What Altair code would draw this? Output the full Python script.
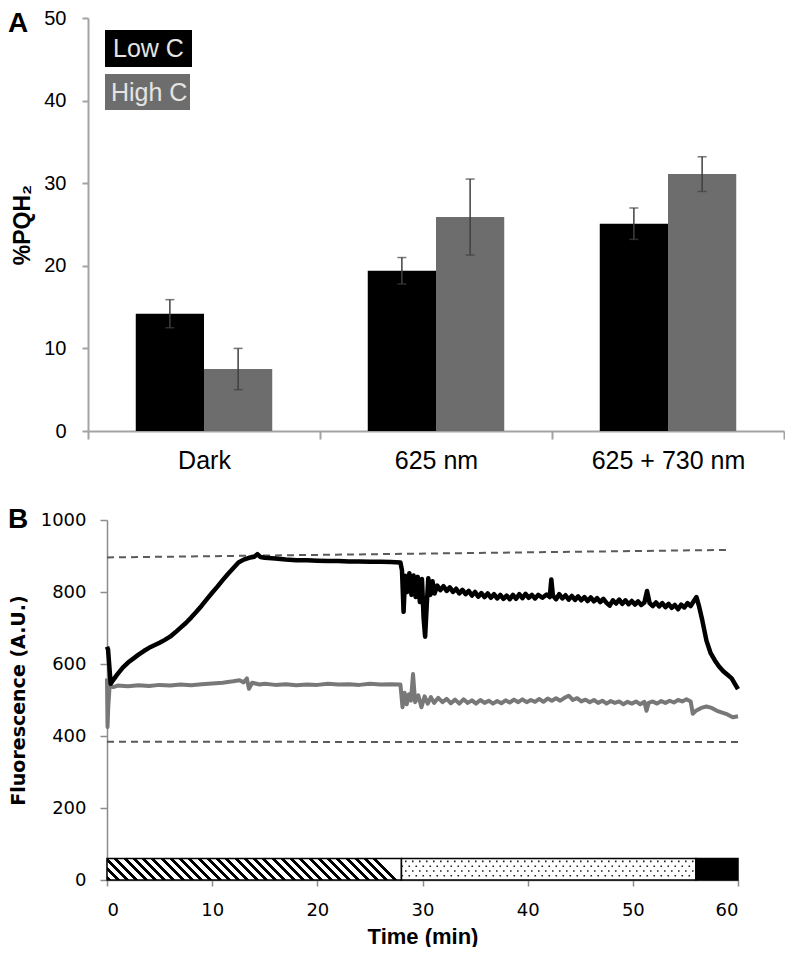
import altair as alt
import pandas as pd

# ---------------- Panel A data ----------------
categories = ["Dark", "625 nm", "625 + 730 nm"]
series = ["Low C", "High C"]
low_c_mean = [14.2, 19.4, 25.1]
low_c_err = [1.7, 1.6, 1.9]
high_c_mean = [7.5, 25.9, 31.1]
high_c_err = [2.5, 4.6, 2.1]
a_y_ticks = [0, 10, 20, 30, 40, 50]

# ---------------- Panel B data ----------------
black_trace = [
    (0.0, 648), (0.1, 640), (0.35, 545), (0.6, 556), (1.0, 572), (1.5, 590), (2.0, 604), (2.5, 615),
    (3.0, 626), (3.5, 636), (4.0, 645), (4.5, 652), (5.0, 659), (5.5, 667), (6.0, 676), (6.5, 688),
    (7.0, 701), (7.5, 714), (8.0, 729), (8.5, 745), (9.0, 762), (9.5, 780), (10.0, 798), (10.5, 815),
    (11.0, 833), (11.5, 850), (12.0, 866), (12.5, 882), (13.0, 890), (13.5, 895), (14.0, 898), (14.3, 905),
    (14.6, 897), (15.0, 895), (16.0, 893), (17.0, 890), (18.0, 888), (19.0, 888), (20.0, 887), (21.0, 886),
    (22.0, 886), (23.0, 885), (24.0, 885), (25.0, 884), (26.0, 884), (27.0, 883), (27.9, 882),
    (28.05, 860), (28.2, 745), (28.35, 845), (28.55, 800), (28.75, 852), (28.95, 792), (29.15, 846),
    (29.35, 786), (29.55, 842), (29.75, 772), (29.95, 836), (30.1, 730), (30.25, 676), (30.4, 762),
    (30.55, 838), (30.75, 792), (30.95, 830), (31.15, 796),
    (31.4, 818), (31.7, 805), (32.0, 816), (32.3, 803), (32.6, 813), (32.9, 800), (33.2, 809), (33.5, 796),
    (33.8, 806), (34.1, 794), (34.4, 803), (34.7, 790), (35.0, 800), (35.3, 787), (35.6, 797), (35.9, 786),
    (36.2, 796), (36.5, 784), (36.8, 794), (37.1, 782), (37.4, 792), (37.7, 781), (38.0, 790), (38.3, 780),
    (38.6, 792), (38.9, 781), (39.2, 794), (39.5, 783), (39.8, 795), (40.1, 784), (40.4, 792), (40.7, 782),
    (41.0, 792), (41.4, 784), (41.8, 793), (42.1, 786), (42.25, 835), (42.4, 790), (42.7, 780), (43.0, 794),
    (43.3, 782), (43.6, 791), (43.9, 779), (44.2, 789), (44.5, 778), (44.8, 788), (45.1, 777), (45.4, 786),
    (45.7, 775), (46.0, 785), (46.3, 774), (46.6, 783), (46.9, 772), (47.2, 781), (47.5, 770), (47.8, 762),
    (48.1, 777), (48.4, 768), (48.7, 779), (49.0, 767), (49.3, 777), (49.6, 766), (49.9, 775), (50.2, 765),
    (50.5, 774), (50.8, 764), (51.1, 771), (51.35, 803), (51.6, 769), (51.9, 761), (52.2, 771), (52.5, 760),
    (52.8, 769), (53.1, 758), (53.4, 767), (53.7, 756), (54.0, 764), (54.3, 752), (54.6, 765), (54.9, 757),
    (55.2, 769), (55.5, 761), (55.8, 775), (56.05, 786), (56.3, 760), (56.6, 722), (57.0, 665), (57.4, 630),
    (57.8, 610), (58.2, 593), (58.6, 580), (59.0, 570), (59.4, 560), (59.8, 540), (60.0, 530)]

grey_trace = [
    (0.0, 560), (0.05, 425), (0.12, 480), (0.25, 540), (0.6, 536), (1.0, 540), (2.0, 538), (3.0, 541),
    (4.0, 539), (5.0, 542), (6.0, 540), (7.0, 543), (8.0, 541), (9.0, 544), (10.0, 546), (11.0, 548),
    (12.0, 552), (12.6, 555), (13.0, 549), (13.3, 560), (13.5, 531), (13.8, 548), (14.5, 543), (15.0, 545),
    (16.0, 542), (17.0, 544), (18.0, 541), (19.0, 543), (20.0, 542), (21.0, 545), (22.0, 543), (23.0, 544),
    (24.0, 542), (25.0, 545), (26.0, 543), (27.0, 544), (27.9, 543), (28.1, 480), (28.3, 520), (28.5, 488),
    (28.7, 516), (28.9, 498), (29.1, 572), (29.3, 494), (29.6, 513), (29.9, 480), (30.2, 510), (30.5, 490),
    (30.8, 508), (31.1, 492), (31.5, 506), (31.9, 494), (32.3, 503), (32.7, 491), (33.1, 501), (33.5, 490),
    (33.9, 502), (34.3, 492), (34.7, 499), (35.1, 490), (35.5, 500), (35.9, 492), (36.3, 498), (36.7, 490),
    (37.1, 497), (37.5, 491), (37.9, 499), (38.3, 493), (38.7, 501), (39.1, 494), (39.5, 502), (39.9, 494),
    (40.3, 500), (40.7, 495), (41.1, 503), (41.5, 495), (41.9, 504), (42.3, 498), (42.7, 505), (43.1, 498),
    (43.5, 506), (43.9, 512), (44.3, 500), (44.7, 505), (45.1, 496), (45.5, 501), (45.9, 494), (46.3, 500),
    (46.7, 492), (47.1, 498), (47.5, 490), (47.9, 497), (48.3, 492), (48.7, 496), (49.1, 488), (49.5, 495),
    (49.9, 490), (50.3, 496), (50.7, 488), (51.1, 495), (51.3, 470), (51.5, 492), (51.9, 496), (52.3, 490),
    (52.7, 497), (53.1, 492), (53.5, 498), (53.9, 493), (54.3, 500), (54.7, 496), (55.1, 502), (55.5, 496),
    (55.7, 462), (56.0, 470), (56.5, 478), (57.0, 482), (57.5, 478), (58.0, 470), (58.5, 465), (59.0, 460),
    (59.5, 452), (60.0, 455)]

upper_dash_t = [0, 59.2]
upper_dash_v = [896, 917]
lower_dash_t = [0, 60]
lower_dash_v = [384, 383]

phase_start = [0, 28, 56]
phase_end = [28, 56, 60]
phase_kind = ["hatched", "dotted", "solid"]
phase_height = 60

b_x_ticks = [0, 10, 20, 30, 40, 50, 60]
b_y_ticks = [0, 200, 400, 600, 800, 1000]

# ---------------- styles ----------------
FA = "Liberation Sans, Arial, sans-serif"
FB = "DejaVu Sans, Verdana, sans-serif"
AX_GREY = "#a3a3a3"
ERR = "#404040"
BAR_COLORS = ["#000000", "#6d6d6d"]
WA, HA = 696, 413
B_SHIFT = 19          # panel B axis sits this many px right of panel A's axis
WB_DATA, HB = 631, 360
WB = WB_DATA + B_SHIFT

# ---------------- Panel A ----------------
rows = []
for i, c in enumerate(categories):
    rows.append({"category": c, "series": series[0], "value": low_c_mean[i],
                 "lo": low_c_mean[i] - low_c_err[i], "hi": low_c_mean[i] + low_c_err[i]})
    rows.append({"category": c, "series": series[1], "value": high_c_mean[i],
                 "lo": high_c_mean[i] - high_c_err[i], "hi": high_c_mean[i] + high_c_err[i]})
df_a = pd.DataFrame(rows)

y_title_a = "%PQH₂"


def xa():
    return alt.X("category:N", sort=categories, title=None,
                 scale=alt.Scale(paddingInner=0, paddingOuter=0),
                 axis=alt.Axis(labelAngle=0, labelFont=FA, labelFontSize=25, labelColor="#000",
                               labelPadding=9, tickBand="extent", tickSize=8, tickWidth=2,
                               tickColor=AX_GREY, domainColor=AX_GREY, domainWidth=2))


def xoa():
    return alt.XOffset("series:N", sort=series, scale=alt.Scale(paddingInner=0, paddingOuter=0.7))


def ya(field):
    return alt.Y(field, title=y_title_a, scale=alt.Scale(domain=[0, 50], nice=False),
                 axis=alt.Axis(values=a_y_ticks, titleFont=FA, titleFontSize=23, titleFontWeight="bold",
                               titleColor="#000", titlePadding=9, labelFont=FA, labelFontSize=20,
                               labelColor="#000", labelPadding=16, tickSize=6, tickWidth=2,
                               tickColor=AX_GREY, domainColor=AX_GREY, domainWidth=2))


base_a = alt.Chart(df_a)
bars = base_a.mark_bar().encode(
    x=xa(), xOffset=xoa(), y=ya("value:Q"),
    color=alt.Color("series:N", scale=alt.Scale(domain=series, range=BAR_COLORS), legend=None))
err_rule = base_a.mark_rule(color=ERR, strokeWidth=1.5).encode(
    x=xa(), xOffset=xoa(), y=ya("lo:Q"), y2="hi:Q")
cap_hi = base_a.mark_tick(color=ERR, thickness=1.5, size=9).encode(x=xa(), xOffset=xoa(), y=ya("hi:Q"))
cap_lo = base_a.mark_tick(color=ERR, thickness=1.5, size=9).encode(x=xa(), xOffset=xoa(), y=ya("lo:Q"))

leg_low = pd.DataFrame({"label": [series[0]]})
leg_high = pd.DataFrame({"label": [series[1]]})
leg_low_box = alt.Chart(leg_low).mark_rect(color=BAR_COLORS[0]).encode(
    x=alt.value(17), x2=alt.value(104), y=alt.value(12), y2=alt.value(49))
leg_high_box = alt.Chart(leg_high).mark_rect(color=BAR_COLORS[1]).encode(
    x=alt.value(17), x2=alt.value(102), y=alt.value(56), y2=alt.value(92))
leg_low_txt = alt.Chart(leg_low).mark_text(align="left", baseline="middle", font=FA, fontSize=25,
                                            color="#e4e4e4").encode(
    x=alt.value(25), y=alt.value(31), text="label:N")
leg_high_txt = alt.Chart(leg_high).mark_text(align="left", baseline="middle", font=FA, fontSize=25,
                                              color="#e4e4e4").encode(
    x=alt.value(23), y=alt.value(75), text="label:N")
lab_a = alt.Chart(pd.DataFrame({"p": ["A"]})).mark_text(
    align="left", baseline="top", font=FA, fontSize=28, fontWeight="bold", color="#000").encode(
    x=alt.value(-80), y=alt.value(-8), text="p:N")

chart_a = alt.layer(bars, err_rule, cap_hi, cap_lo, leg_low_box, leg_high_box, leg_low_txt,
                    leg_high_txt, lab_a).properties(width=WA, height=HA)

# ---------------- Panel B ----------------
df_black = pd.DataFrame(black_trace, columns=["t", "v"])
df_grey = pd.DataFrame(grey_trace, columns=["t", "v"])
df_dash_up = pd.DataFrame({"t": upper_dash_t, "v": upper_dash_v})
df_dash_lo = pd.DataFrame({"t": lower_dash_t, "v": lower_dash_v})
df_phase = pd.DataFrame({"start": phase_start, "end": phase_end, "kind": phase_kind,
                         "lo": [0] * len(phase_start), "hi": [phase_height] * len(phase_start)})

x_title_b = "Time (min)"
y_title_b = "Fluorescence (A.U.)"


def xb(field):
    return alt.X(field, title=x_title_b, scale=alt.Scale(domain=[0, 60], nice=False, range=[B_SHIFT, WB]),
                 axis=alt.Axis(values=b_x_ticks, labelFont=FB, labelFontSize=18, labelColor="#000",
                               labelPadding=15, tickSize=6, tickWidth=1.5, tickColor="#8c8c8c",
                               domainColor="#8c8c8c", domainWidth=1.5, titleFont=FA, titleFontSize=22,
                               titleFontWeight="bold", titleColor="#000", titlePadding=7))


def yb(field):
    return alt.Y(field, title=y_title_b, scale=alt.Scale(domain=[0, 1000], nice=False),
                 axis=alt.Axis(values=b_y_ticks, format="d", offset=-B_SHIFT, labelFont=FB, labelFontSize=18,
                               labelColor="#000", labelPadding=14, tickSize=7, tickWidth=1.5,
                               tickColor="#8c8c8c", domainColor="#8c8c8c", domainWidth=1.5, titleFont=FB,
                               titleFontSize=19, titleFontWeight="bold", titleColor="#000", titlePadding=12))


# hatch gradient (style only)
seg_w = (phase_end[0] - phase_start[0]) / 60 * WB_DATA
seg_h = phase_height / 1000 * HB
ratio = seg_h / seg_w
n_stripes = max(1, round(seg_w / 9.3))
stops = []
for i in range(n_stripes):
    a0 = i / n_stripes
    m0 = (i + 0.45) / n_stripes
    b0 = (i + 1) / n_stripes
    stops += [alt.GradientStop(offset=a0, color="#000"), alt.GradientStop(offset=m0, color="#000"),
              alt.GradientStop(offset=m0, color="#fff"), alt.GradientStop(offset=b0, color="#fff")]
hatch = alt.LinearGradient(gradient="linear", stops=stops, x1=0, y1=1, x2=1, y2=1 - ratio)

base_p = alt.Chart(df_phase)
rect_hatch = base_p.transform_filter(alt.datum.kind == "hatched").mark_rect(
    fill=hatch, stroke="#000", strokeWidth=1.5).encode(x=xb("start:Q"), x2="end:Q", y=yb("lo:Q"), y2="hi:Q")
rect_dot = base_p.transform_filter(alt.datum.kind == "dotted").mark_rect(
    fill="#fff", stroke="#000", strokeWidth=1.5).encode(x=xb("start:Q"), x2="end:Q", y=yb("lo:Q"), y2="hi:Q")
rect_solid = base_p.transform_filter(alt.datum.kind == "solid").mark_rect(
    fill="#000", stroke="#000", strokeWidth=1.5).encode(x=xb("start:Q"), x2="end:Q", y=yb("lo:Q"), y2="hi:Q")

dot_layers = []
for j, f in enumerate([0.2, 0.42, 0.64, 0.86]):
    dot_layers.append(
        base_p.transform_filter(alt.datum.kind == "dotted").mark_rule(
            color="#222", strokeWidth=1.6, strokeDash=[1.6, 5.4], strokeDashOffset=(3.5 if j % 2 else 0)
        ).encode(x=xb("start:Q"), x2="end:Q", y=alt.value(HB - f * seg_h)))

dash_up = alt.Chart(df_dash_up).mark_line(color="#5a5a5a", strokeWidth=2, strokeDash=[7, 5]).encode(
    x=xb("t:Q"), y=yb("v:Q"))
dash_lo = alt.Chart(df_dash_lo).mark_line(color="#5a5a5a", strokeWidth=2, strokeDash=[7, 5]).encode(
    x=xb("t:Q"), y=yb("v:Q"))
line_black = alt.Chart(df_black).mark_line(color="#000", strokeWidth=4.5, strokeJoin="round").encode(
    x=xb("t:Q"), y=yb("v:Q"))
line_grey = alt.Chart(df_grey).mark_line(color="#787878", strokeWidth=4, strokeJoin="round").encode(
    x=xb("t:Q"), y=yb("v:Q"))

lab_b = alt.Chart(pd.DataFrame({"p": ["B"]})).mark_text(
    align="left", baseline="middle", font=FA, fontSize=28, fontWeight="bold", color="#000").encode(
    x=alt.value(-80), y=alt.value(0), text="p:N")

chart_b = alt.layer(rect_hatch, rect_dot, *dot_layers, rect_solid, dash_up, dash_lo, line_grey, line_black,
                    lab_b).properties(width=WB, height=HB)

chart = alt.vconcat(chart_a, chart_b, spacing=33).properties(
    padding=0).configure_view(stroke=None).configure_axis(grid=False)

chart.save("out.html", embed_options={"renderer": "svg", "actions": False})
